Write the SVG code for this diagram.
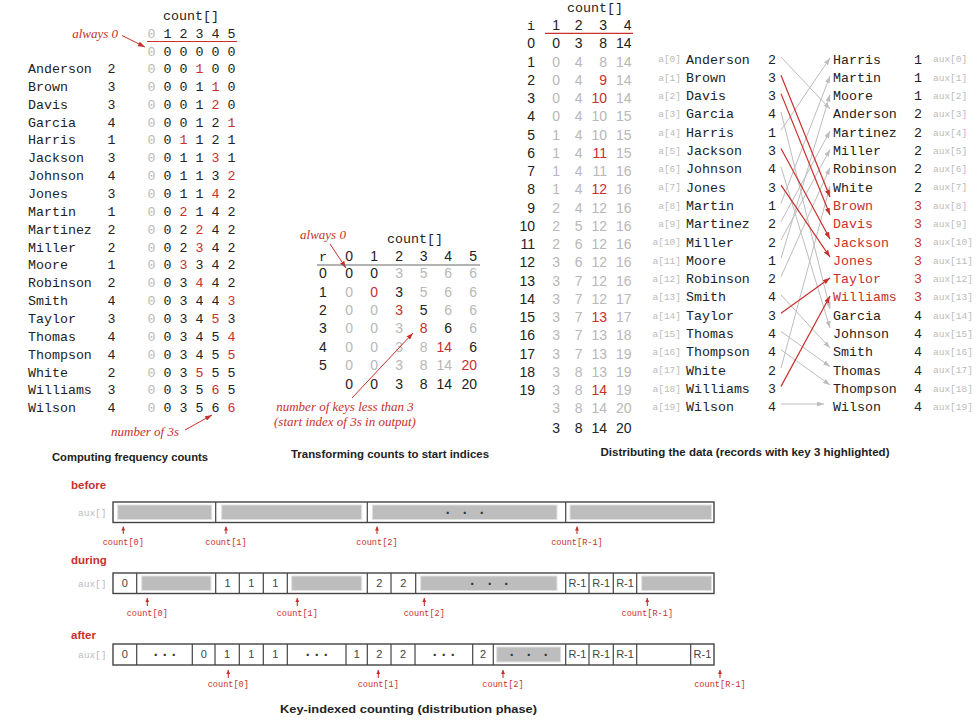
<svg xmlns="http://www.w3.org/2000/svg" width="977" height="722" viewBox="0 0 977 722">
<defs>
<style>
.m{font-family:"Liberation Mono","DejaVu Sans Mono",monospace;font-size:13.3px;fill:#222}
.s{font-family:"Liberation Sans",Arial,sans-serif;font-size:14px;fill:#222}
.g{fill:#b8b8b8}
.r{fill:#c8302c}
.k{fill:#222}
.c{text-anchor:middle}
.e{text-anchor:end}
.it{font-family:"Liberation Serif","Times New Roman",serif;font-style:italic;font-size:13px;fill:#c8302c}
.cap{font-family:"Liberation Sans",Arial,sans-serif;font-weight:bold;font-size:11.3px;fill:#222}
.sm{font-family:"Liberation Mono",monospace;font-size:9.5px;fill:#bbb}
.cnt{font-family:"Liberation Mono",monospace;font-size:8.6px;fill:#c8302c;text-anchor:middle}
.lbl{font-family:"Liberation Sans",Arial,sans-serif;font-weight:bold;font-size:11.5px;fill:#c8302c}
.cell{font-family:"Liberation Sans",Arial,sans-serif;font-size:11px;fill:#444;text-anchor:middle}
.dot{font-family:"Liberation Sans",Arial,sans-serif;font-weight:bold;font-size:14px;fill:#333;text-anchor:middle}
.bar{fill:#fff;stroke:#444;stroke-width:1.4}
.dv{stroke:#444;stroke-width:1.2}
.fl{fill:#bdbdbd;stroke:#e2e2e2;stroke-width:1}
.cg{stroke:#bdbdbd;stroke-width:1;fill:none;marker-end:url(#mg)}
.cr{stroke:#c8302c;stroke-width:1.2;fill:none;marker-end:url(#mr)}
.ra{stroke:#c8302c;stroke-width:1.1;fill:none;marker-end:url(#ma)}
.ia{stroke:#c8302c;stroke-width:1;fill:none;marker-end:url(#mr)}
</style>
<marker id="mg" viewBox="0 0 7 5" refX="7" refY="2.5" markerWidth="7" markerHeight="5" markerUnits="userSpaceOnUse" orient="auto"><path d="M0,0 L7,2.5 L0,5 z" fill="#bdbdbd"/></marker>
<marker id="mr" viewBox="0 0 7 5" refX="7" refY="2.5" markerWidth="7" markerHeight="5" markerUnits="userSpaceOnUse" orient="auto"><path d="M0,0 L7,2.5 L0,5 z" fill="#c8302c"/></marker>
<marker id="ma" viewBox="0 0 6 6" refX="6" refY="3" markerWidth="4" markerHeight="4" markerUnits="userSpaceOnUse" orient="auto"><path d="M0,0 L6,3 L0,6 z" fill="#c8302c"/></marker>
</defs>
<rect width="977" height="722" fill="#fff"/>

<!-- ============ Computing frequency counts ============ -->
<g id="freq-table">
<text class="m c" x="191" y="19.5">count[]</text>
<text class="m c" x="151.5 167.5 183.5 199.5 215.5 231.5" y="37.8"><tspan class="g">0</tspan>12345</text>
<line x1="147" y1="41.5" x2="237" y2="41.5" stroke="#c8302c" stroke-width="1.2"/>
<text class="m c" x="151.5 167.5 183.5 199.5 215.5 231.5" y="55.5"><tspan class="g">0</tspan>00000</text>
<text class="it e" x="118" y="37.5">always 0</text>
<line class="ia" x1="122" y1="35.5" x2="145" y2="47"/>
</g>
<g id="freq-rows">
<g id="f-anderson"><text class="m" x="28" y="73">Anderson</text><text class="m c" x="111.5" y="73">2</text><text class="m c" x="151.5 167.5 183.5 199.5 215.5 231.5" y="73"><tspan class="g">0</tspan>00<tspan class="r">1</tspan>00</text></g>
<g id="f-brown"><text class="m" x="28" y="90.9">Brown</text><text class="m c" x="111.5" y="90.9">3</text><text class="m c" x="151.5 167.5 183.5 199.5 215.5 231.5" y="90.9"><tspan class="g">0</tspan>001<tspan class="r">1</tspan>0</text></g>
<g id="f-davis"><text class="m" x="28" y="108.7">Davis</text><text class="m c" x="111.5" y="108.7">3</text><text class="m c" x="151.5 167.5 183.5 199.5 215.5 231.5" y="108.7"><tspan class="g">0</tspan>001<tspan class="r">2</tspan>0</text></g>
<g id="f-garcia"><text class="m" x="28" y="126.6">Garcia</text><text class="m c" x="111.5" y="126.6">4</text><text class="m c" x="151.5 167.5 183.5 199.5 215.5 231.5" y="126.6"><tspan class="g">0</tspan>0012<tspan class="r">1</tspan></text></g>
<g id="f-harris"><text class="m" x="28" y="144.4">Harris</text><text class="m c" x="111.5" y="144.4">1</text><text class="m c" x="151.5 167.5 183.5 199.5 215.5 231.5" y="144.4"><tspan class="g">0</tspan>0<tspan class="r">1</tspan>121</text></g>
<g id="f-jackson"><text class="m" x="28" y="162.3">Jackson</text><text class="m c" x="111.5" y="162.3">3</text><text class="m c" x="151.5 167.5 183.5 199.5 215.5 231.5" y="162.3"><tspan class="g">0</tspan>011<tspan class="r">3</tspan>1</text></g>
<g id="f-johnson"><text class="m" x="28" y="180.1">Johnson</text><text class="m c" x="111.5" y="180.1">4</text><text class="m c" x="151.5 167.5 183.5 199.5 215.5 231.5" y="180.1"><tspan class="g">0</tspan>0113<tspan class="r">2</tspan></text></g>
<g id="f-jones"><text class="m" x="28" y="198">Jones</text><text class="m c" x="111.5" y="198">3</text><text class="m c" x="151.5 167.5 183.5 199.5 215.5 231.5" y="198"><tspan class="g">0</tspan>011<tspan class="r">4</tspan>2</text></g>
<g id="f-martin"><text class="m" x="28" y="215.8">Martin</text><text class="m c" x="111.5" y="215.8">1</text><text class="m c" x="151.5 167.5 183.5 199.5 215.5 231.5" y="215.8"><tspan class="g">0</tspan>0<tspan class="r">2</tspan>142</text></g>
<g id="f-martinez"><text class="m" x="28" y="233.7">Martinez</text><text class="m c" x="111.5" y="233.7">2</text><text class="m c" x="151.5 167.5 183.5 199.5 215.5 231.5" y="233.7"><tspan class="g">0</tspan>02<tspan class="r">2</tspan>42</text></g>
<g id="f-miller"><text class="m" x="28" y="251.5">Miller</text><text class="m c" x="111.5" y="251.5">2</text><text class="m c" x="151.5 167.5 183.5 199.5 215.5 231.5" y="251.5"><tspan class="g">0</tspan>02<tspan class="r">3</tspan>42</text></g>
<g id="f-moore"><text class="m" x="28" y="269.4">Moore</text><text class="m c" x="111.5" y="269.4">1</text><text class="m c" x="151.5 167.5 183.5 199.5 215.5 231.5" y="269.4"><tspan class="g">0</tspan>0<tspan class="r">3</tspan>342</text></g>
<g id="f-robinson"><text class="m" x="28" y="287.2">Robinson</text><text class="m c" x="111.5" y="287.2">2</text><text class="m c" x="151.5 167.5 183.5 199.5 215.5 231.5" y="287.2"><tspan class="g">0</tspan>03<tspan class="r">4</tspan>42</text></g>
<g id="f-smith"><text class="m" x="28" y="305.1">Smith</text><text class="m c" x="111.5" y="305.1">4</text><text class="m c" x="151.5 167.5 183.5 199.5 215.5 231.5" y="305.1"><tspan class="g">0</tspan>0344<tspan class="r">3</tspan></text></g>
<g id="f-taylor"><text class="m" x="28" y="322.9">Taylor</text><text class="m c" x="111.5" y="322.9">3</text><text class="m c" x="151.5 167.5 183.5 199.5 215.5 231.5" y="322.9"><tspan class="g">0</tspan>034<tspan class="r">5</tspan>3</text></g>
<g id="f-thomas"><text class="m" x="28" y="340.8">Thomas</text><text class="m c" x="111.5" y="340.8">4</text><text class="m c" x="151.5 167.5 183.5 199.5 215.5 231.5" y="340.8"><tspan class="g">0</tspan>0345<tspan class="r">4</tspan></text></g>
<g id="f-thompson"><text class="m" x="28" y="358.6">Thompson</text><text class="m c" x="111.5" y="358.6">4</text><text class="m c" x="151.5 167.5 183.5 199.5 215.5 231.5" y="358.6"><tspan class="g">0</tspan>0345<tspan class="r">5</tspan></text></g>
<g id="f-white"><text class="m" x="28" y="376.5">White</text><text class="m c" x="111.5" y="376.5">2</text><text class="m c" x="151.5 167.5 183.5 199.5 215.5 231.5" y="376.5"><tspan class="g">0</tspan>03<tspan class="r">5</tspan>55</text></g>
<g id="f-williams"><text class="m" x="28" y="394.3">Williams</text><text class="m c" x="111.5" y="394.3">3</text><text class="m c" x="151.5 167.5 183.5 199.5 215.5 231.5" y="394.3"><tspan class="g">0</tspan>035<tspan class="r">6</tspan>5</text></g>
<g id="f-wilson"><text class="m" x="28" y="412.2">Wilson</text><text class="m c" x="111.5" y="412.2">4</text><text class="m c" x="151.5 167.5 183.5 199.5 215.5 231.5" y="412.2"><tspan class="g">0</tspan>0356<tspan class="r">6</tspan></text></g>
</g>
<g id="freq-note">
<text class="it e" x="179" y="436">number of 3s</text>
<line class="ia" x1="185" y1="430" x2="212" y2="415"/>
<text class="cap c" x="130" y="461" textLength="156" lengthAdjust="spacingAndGlyphs">Computing frequency counts</text>
</g>

<!-- ============ Transforming counts to start indices ============ -->
<g id="cum-table">
<text class="it c" x="323" y="239">always 0</text>
<line class="ia" x1="330" y1="244" x2="346" y2="268"/>
<text class="m c" x="415" y="242.5">count[]</text>
<text class="m c" x="323" y="261">r</text>
<text class="s e" y="261"><tspan x="353">0</tspan><tspan x="378">1</tspan><tspan x="403">2</tspan><tspan x="427.5">3</tspan><tspan x="452">4</tspan><tspan x="477">5</tspan></text>
<line x1="317" y1="265" x2="480" y2="265" stroke="#666" stroke-width="1"/>
<g id="cum-r0"><text class="s c" x="323" y="278.3">0</text><text class="s e" y="278.3"><tspan x="353">0</tspan><tspan x="378">0</tspan><tspan class="g" x="403">3</tspan><tspan class="g" x="427.5">5</tspan><tspan class="g" x="452">6</tspan><tspan class="g" x="477">6</tspan></text></g>
<g id="cum-r1"><text class="s c" x="323" y="296.7">1</text><text class="s e" y="296.7"><tspan class="g" x="353">0</tspan><tspan class="r" x="378">0</tspan><tspan x="403">3</tspan><tspan class="g" x="427.5">5</tspan><tspan class="g" x="452">6</tspan><tspan class="g" x="477">6</tspan></text></g>
<g id="cum-r2"><text class="s c" x="323" y="315">2</text><text class="s e" y="315"><tspan class="g" x="353">0</tspan><tspan class="g" x="378">0</tspan><tspan class="r" x="403">3</tspan><tspan x="427.5">5</tspan><tspan class="g" x="452">6</tspan><tspan class="g" x="477">6</tspan></text></g>
<g id="cum-r3"><text class="s c" x="323" y="333.4">3</text><text class="s e" y="333.4"><tspan class="g" x="353">0</tspan><tspan class="g" x="378">0</tspan><tspan class="g" x="403">3</tspan><tspan class="r" x="427.5">8</tspan><tspan x="452">6</tspan><tspan class="g" x="477">6</tspan></text></g>
<g id="cum-r4"><text class="s c" x="323" y="351.8">4</text><text class="s e" y="351.8"><tspan class="g" x="353">0</tspan><tspan class="g" x="378">0</tspan><tspan class="g" x="403">3</tspan><tspan class="g" x="427.5">8</tspan><tspan class="r" x="452">14</tspan><tspan x="477">6</tspan></text></g>
<g id="cum-r5"><text class="s c" x="323" y="370.2">5</text><text class="s e" y="370.2"><tspan class="g" x="353">0</tspan><tspan class="g" x="378">0</tspan><tspan class="g" x="403">3</tspan><tspan class="g" x="427.5">8</tspan><tspan class="g" x="452">14</tspan><tspan class="r" x="477">20</tspan></text></g>
<g id="cum-final"><text class="s e" y="388.6"><tspan x="353">0</tspan><tspan x="378">0</tspan><tspan x="403">3</tspan><tspan x="427.5">8</tspan><tspan x="452">14</tspan><tspan x="477">20</tspan></text></g>
</g>
<g id="cum-note">
<line class="ia" x1="352" y1="398" x2="413" y2="333"/>
<text class="it c" x="345" y="410.5">number of keys less than 3</text>
<text class="it c" x="345" y="425.5">(start index of 3s in output)</text>
<text class="cap c" x="390" y="458" textLength="198" lengthAdjust="spacingAndGlyphs">Transforming counts to start indices</text>
</g>

<!-- ============ Distributing the data: count trace ============ -->
<g id="dist-count">
<text class="m c" x="595" y="11.5">count[]</text>
<text class="m c" x="531" y="30">i</text>
<text class="s e" y="30"><tspan x="560">1</tspan><tspan x="582.5">2</tspan><tspan x="607">3</tspan><tspan x="631.5">4</tspan></text>
<line x1="545" y1="33.3" x2="633" y2="33.3" stroke="#c8302c" stroke-width="1.2"/>
<text class="s e" y="48.3"><tspan x="535">0</tspan><tspan x="560">0</tspan><tspan x="582.5">3</tspan><tspan x="607">8</tspan><tspan x="631.5">14</tspan></text>
<text class="s e" y="66.55"><tspan x="535">1</tspan><tspan class="g" x="560">0</tspan><tspan class="g" x="582.5">4</tspan><tspan class="g" x="607">8</tspan><tspan class="g" x="631.5">14</tspan></text>
<text class="s e" y="84.8"><tspan x="535">2</tspan><tspan class="g" x="560">0</tspan><tspan class="g" x="582.5">4</tspan><tspan class="r" x="607">9</tspan><tspan class="g" x="631.5">14</tspan></text>
<text class="s e" y="103.05"><tspan x="535">3</tspan><tspan class="g" x="560">0</tspan><tspan class="g" x="582.5">4</tspan><tspan class="r" x="607">10</tspan><tspan class="g" x="631.5">14</tspan></text>
<text class="s e" y="121.3"><tspan x="535">4</tspan><tspan class="g" x="560">0</tspan><tspan class="g" x="582.5">4</tspan><tspan class="g" x="607">10</tspan><tspan class="g" x="631.5">15</tspan></text>
<text class="s e" y="139.55"><tspan x="535">5</tspan><tspan class="g" x="560">1</tspan><tspan class="g" x="582.5">4</tspan><tspan class="g" x="607">10</tspan><tspan class="g" x="631.5">15</tspan></text>
<text class="s e" y="157.8"><tspan x="535">6</tspan><tspan class="g" x="560">1</tspan><tspan class="g" x="582.5">4</tspan><tspan class="r" x="607">11</tspan><tspan class="g" x="631.5">15</tspan></text>
<text class="s e" y="176.05"><tspan x="535">7</tspan><tspan class="g" x="560">1</tspan><tspan class="g" x="582.5">4</tspan><tspan class="g" x="607">11</tspan><tspan class="g" x="631.5">16</tspan></text>
<text class="s e" y="194.3"><tspan x="535">8</tspan><tspan class="g" x="560">1</tspan><tspan class="g" x="582.5">4</tspan><tspan class="r" x="607">12</tspan><tspan class="g" x="631.5">16</tspan></text>
<text class="s e" y="212.55"><tspan x="535">9</tspan><tspan class="g" x="560">2</tspan><tspan class="g" x="582.5">4</tspan><tspan class="g" x="607">12</tspan><tspan class="g" x="631.5">16</tspan></text>
<text class="s e" y="230.8"><tspan x="535">10</tspan><tspan class="g" x="560">2</tspan><tspan class="g" x="582.5">5</tspan><tspan class="g" x="607">12</tspan><tspan class="g" x="631.5">16</tspan></text>
<text class="s e" y="249.05"><tspan x="535">11</tspan><tspan class="g" x="560">2</tspan><tspan class="g" x="582.5">6</tspan><tspan class="g" x="607">12</tspan><tspan class="g" x="631.5">16</tspan></text>
<text class="s e" y="267.3"><tspan x="535">12</tspan><tspan class="g" x="560">3</tspan><tspan class="g" x="582.5">6</tspan><tspan class="g" x="607">12</tspan><tspan class="g" x="631.5">16</tspan></text>
<text class="s e" y="285.55"><tspan x="535">13</tspan><tspan class="g" x="560">3</tspan><tspan class="g" x="582.5">7</tspan><tspan class="g" x="607">12</tspan><tspan class="g" x="631.5">16</tspan></text>
<text class="s e" y="303.8"><tspan x="535">14</tspan><tspan class="g" x="560">3</tspan><tspan class="g" x="582.5">7</tspan><tspan class="g" x="607">12</tspan><tspan class="g" x="631.5">17</tspan></text>
<text class="s e" y="322.05"><tspan x="535">15</tspan><tspan class="g" x="560">3</tspan><tspan class="g" x="582.5">7</tspan><tspan class="r" x="607">13</tspan><tspan class="g" x="631.5">17</tspan></text>
<text class="s e" y="340.3"><tspan x="535">16</tspan><tspan class="g" x="560">3</tspan><tspan class="g" x="582.5">7</tspan><tspan class="g" x="607">13</tspan><tspan class="g" x="631.5">18</tspan></text>
<text class="s e" y="358.55"><tspan x="535">17</tspan><tspan class="g" x="560">3</tspan><tspan class="g" x="582.5">7</tspan><tspan class="g" x="607">13</tspan><tspan class="g" x="631.5">19</tspan></text>
<text class="s e" y="376.8"><tspan x="535">18</tspan><tspan class="g" x="560">3</tspan><tspan class="g" x="582.5">8</tspan><tspan class="g" x="607">13</tspan><tspan class="g" x="631.5">19</tspan></text>
<text class="s e" y="395.05"><tspan x="535">19</tspan><tspan class="g" x="560">3</tspan><tspan class="g" x="582.5">8</tspan><tspan class="r" x="607">14</tspan><tspan class="g" x="631.5">19</tspan></text>
<text class="s e" y="413.3"><tspan class="g" x="560">3</tspan><tspan class="g" x="582.5">8</tspan><tspan class="g" x="607">14</tspan><tspan class="g" x="631.5">20</tspan></text>
<text class="s e" y="432.5"><tspan x="560">3</tspan><tspan x="582.5">8</tspan><tspan x="607">14</tspan><tspan x="631.5">20</tspan></text>
</g>

<!-- input array a[] -->
<g id="a-array">
<g id="a0"><text class="sm e" x="681" y="62.3">a[0]</text><text class="m" x="686" y="63.5">Anderson</text><text class="m c" x="772" y="63.5">2</text></g>
<g id="a1"><text class="sm e" x="681" y="80.6">a[1]</text><text class="m" x="686" y="81.8">Brown</text><text class="m c" x="772" y="81.8">3</text></g>
<g id="a2"><text class="sm e" x="681" y="98.9">a[2]</text><text class="m" x="686" y="100.1">Davis</text><text class="m c" x="772" y="100.1">3</text></g>
<g id="a3"><text class="sm e" x="681" y="117.2">a[3]</text><text class="m" x="686" y="118.4">Garcia</text><text class="m c" x="772" y="118.4">4</text></g>
<g id="a4"><text class="sm e" x="681" y="135.5">a[4]</text><text class="m" x="686" y="136.7">Harris</text><text class="m c" x="772" y="136.7">1</text></g>
<g id="a5"><text class="sm e" x="681" y="153.8">a[5]</text><text class="m" x="686" y="155">Jackson</text><text class="m c" x="772" y="155">3</text></g>
<g id="a6"><text class="sm e" x="681" y="172.1">a[6]</text><text class="m" x="686" y="173.3">Johnson</text><text class="m c" x="772" y="173.3">4</text></g>
<g id="a7"><text class="sm e" x="681" y="190.4">a[7]</text><text class="m" x="686" y="191.6">Jones</text><text class="m c" x="772" y="191.6">3</text></g>
<g id="a8"><text class="sm e" x="681" y="208.7">a[8]</text><text class="m" x="686" y="209.9">Martin</text><text class="m c" x="772" y="209.9">1</text></g>
<g id="a9"><text class="sm e" x="681" y="227">a[9]</text><text class="m" x="686" y="228.2">Martinez</text><text class="m c" x="772" y="228.2">2</text></g>
<g id="a10"><text class="sm e" x="681" y="245.3">a[10]</text><text class="m" x="686" y="246.5">Miller</text><text class="m c" x="772" y="246.5">2</text></g>
<g id="a11"><text class="sm e" x="681" y="263.6">a[11]</text><text class="m" x="686" y="264.8">Moore</text><text class="m c" x="772" y="264.8">1</text></g>
<g id="a12"><text class="sm e" x="681" y="281.9">a[12]</text><text class="m" x="686" y="283.1">Robinson</text><text class="m c" x="772" y="283.1">2</text></g>
<g id="a13"><text class="sm e" x="681" y="300.2">a[13]</text><text class="m" x="686" y="301.4">Smith</text><text class="m c" x="772" y="301.4">4</text></g>
<g id="a14"><text class="sm e" x="681" y="318.5">a[14]</text><text class="m" x="686" y="319.7">Taylor</text><text class="m c" x="772" y="319.7">3</text></g>
<g id="a15"><text class="sm e" x="681" y="336.8">a[15]</text><text class="m" x="686" y="338">Thomas</text><text class="m c" x="772" y="338">4</text></g>
<g id="a16"><text class="sm e" x="681" y="355.1">a[16]</text><text class="m" x="686" y="356.3">Thompson</text><text class="m c" x="772" y="356.3">4</text></g>
<g id="a17"><text class="sm e" x="681" y="373.4">a[17]</text><text class="m" x="686" y="374.6">White</text><text class="m c" x="772" y="374.6">2</text></g>
<g id="a18"><text class="sm e" x="681" y="391.7">a[18]</text><text class="m" x="686" y="392.9">Williams</text><text class="m c" x="772" y="392.9">3</text></g>
<g id="a19"><text class="sm e" x="681" y="410">a[19]</text><text class="m" x="686" y="411.2">Wilson</text><text class="m c" x="772" y="411.2">4</text></g>
</g>

<!-- output array aux[] -->
<g id="aux-array">
<g id="x0"><text class="m" x="833" y="63.5">Harris</text><text class="m c" x="918" y="63.5">1</text><text class="sm" x="933" y="62.3">aux[0]</text></g>
<g id="x1"><text class="m" x="833" y="81.8">Martin</text><text class="m c" x="918" y="81.8">1</text><text class="sm" x="933" y="80.6">aux[1]</text></g>
<g id="x2"><text class="m" x="833" y="100.1">Moore</text><text class="m c" x="918" y="100.1">1</text><text class="sm" x="933" y="98.9">aux[2]</text></g>
<g id="x3"><text class="m" x="833" y="118.4">Anderson</text><text class="m c" x="918" y="118.4">2</text><text class="sm" x="933" y="117.2">aux[3]</text></g>
<g id="x4"><text class="m" x="833" y="136.7">Martinez</text><text class="m c" x="918" y="136.7">2</text><text class="sm" x="933" y="135.5">aux[4]</text></g>
<g id="x5"><text class="m" x="833" y="155">Miller</text><text class="m c" x="918" y="155">2</text><text class="sm" x="933" y="153.8">aux[5]</text></g>
<g id="x6"><text class="m" x="833" y="173.3">Robinson</text><text class="m c" x="918" y="173.3">2</text><text class="sm" x="933" y="172.1">aux[6]</text></g>
<g id="x7"><text class="m" x="833" y="191.6">White</text><text class="m c" x="918" y="191.6">2</text><text class="sm" x="933" y="190.4">aux[7]</text></g>
<g id="x8"><text class="m r" x="833" y="209.9">Brown</text><text class="m c r" x="918" y="209.9">3</text><text class="sm" x="933" y="208.7">aux[8]</text></g>
<g id="x9"><text class="m r" x="833" y="228.2">Davis</text><text class="m c r" x="918" y="228.2">3</text><text class="sm" x="933" y="227">aux[9]</text></g>
<g id="x10"><text class="m r" x="833" y="246.5">Jackson</text><text class="m c r" x="918" y="246.5">3</text><text class="sm" x="933" y="245.3">aux[10]</text></g>
<g id="x11"><text class="m r" x="833" y="264.8">Jones</text><text class="m c r" x="918" y="264.8">3</text><text class="sm" x="933" y="263.6">aux[11]</text></g>
<g id="x12"><text class="m r" x="833" y="283.1">Taylor</text><text class="m c r" x="918" y="283.1">3</text><text class="sm" x="933" y="281.9">aux[12]</text></g>
<g id="x13"><text class="m r" x="833" y="301.4">Williams</text><text class="m c r" x="918" y="301.4">3</text><text class="sm" x="933" y="300.2">aux[13]</text></g>
<g id="x14"><text class="m" x="833" y="319.7">Garcia</text><text class="m c" x="918" y="319.7">4</text><text class="sm" x="933" y="318.5">aux[14]</text></g>
<g id="x15"><text class="m" x="833" y="338">Johnson</text><text class="m c" x="918" y="338">4</text><text class="sm" x="933" y="336.8">aux[15]</text></g>
<g id="x16"><text class="m" x="833" y="356.3">Smith</text><text class="m c" x="918" y="356.3">4</text><text class="sm" x="933" y="355.1">aux[16]</text></g>
<g id="x17"><text class="m" x="833" y="374.6">Thomas</text><text class="m c" x="918" y="374.6">4</text><text class="sm" x="933" y="373.4">aux[17]</text></g>
<g id="x18"><text class="m" x="833" y="392.9">Thompson</text><text class="m c" x="918" y="392.9">4</text><text class="sm" x="933" y="391.7">aux[18]</text></g>
<g id="x19"><text class="m" x="833" y="411.2">Wilson</text><text class="m c" x="918" y="411.2">4</text><text class="sm" x="933" y="410">aux[19]</text></g>
</g>

<g id="connectors">
<line class="cg" x1="781" y1="57" x2="830" y2="109"/>
<line class="cg" x1="781" y1="111.9" x2="830" y2="309"/>
<line class="cg" x1="781" y1="130.2" x2="830" y2="58"/>
<line class="cg" x1="781" y1="166.8" x2="830" y2="328"/>
<line class="cg" x1="781" y1="203.4" x2="830" y2="76"/>
<line class="cg" x1="781" y1="221.7" x2="830" y2="131"/>
<line class="cg" x1="781" y1="240" x2="830" y2="149.5"/>
<line class="cg" x1="781" y1="258.3" x2="830" y2="94.6"/>
<line class="cg" x1="781" y1="276.6" x2="830" y2="167.8"/>
<line class="cg" x1="781" y1="294.9" x2="830" y2="348"/>
<line class="cg" x1="781" y1="331.5" x2="830" y2="366.5"/>
<line class="cg" x1="781" y1="349.8" x2="830" y2="385"/>
<line class="cg" x1="781" y1="368.1" x2="830" y2="186"/>
<line class="cg" x1="781" y1="404" x2="824" y2="404"/>
<line class="cr" x1="781" y1="75.3" x2="830" y2="197"/>
<line class="cr" x1="781" y1="93.6" x2="830" y2="215"/>
<line class="cr" x1="781" y1="148.5" x2="830" y2="239"/>
<line class="cr" x1="781" y1="185.1" x2="830" y2="257"/>
<line class="cr" x1="781" y1="313.2" x2="830" y2="278"/>
<line class="cr" x1="781" y1="386.4" x2="830" y2="296"/>
</g>
<text class="cap c" x="745" y="456" textLength="289" lengthAdjust="spacingAndGlyphs">Distributing the data (records with key 3 highlighted)</text>

<!-- ============ Key-indexed counting (distribution phase) ============ -->
<g id="before">
<text class="lbl" x="71" y="489">before</text>
<text class="sm" x="78" y="515.5" font-size="8.5">aux[]</text>
<rect class="bar" x="113" y="502" width="601" height="20.5"/>
<rect class="fl" x="117.7" y="505" width="94" height="14.5"/>
<rect class="fl" x="221.7" y="505" width="140" height="14.5"/>
<rect class="fl" x="372.3" y="505" width="184.7" height="14.5"/>
<rect class="fl" x="570" y="505" width="141.5" height="14.5"/>
<line class="dv" x1="215.7" y1="502" x2="215.7" y2="522.5"/>
<line class="dv" x1="367.3" y1="502" x2="367.3" y2="522.5"/>
<line class="dv" x1="565.7" y1="502" x2="565.7" y2="522.5"/>
<text class="dot" x="448 465 482" y="518">···</text>
<line class="ra" x1="123.3" y1="534" x2="123.3" y2="526.5"/>
<line class="ra" x1="226" y1="534" x2="226" y2="526.5"/>
<line class="ra" x1="377" y1="534" x2="377" y2="526.5"/>
<line class="ra" x1="577" y1="534" x2="577" y2="526.5"/>
<text class="cnt" x="123.3" y="544.5">count[0]</text>
<text class="cnt" x="226" y="544.5">count[1]</text>
<text class="cnt" x="377" y="544.5">count[2]</text>
<text class="cnt" x="577" y="544.5">count[R-1]</text>
</g>
<g id="during">
<text class="lbl" x="71" y="564">during</text>
<text class="sm" x="78" y="586.5" font-size="8.5">aux[]</text>
<rect class="bar" x="113" y="573" width="601" height="20.5"/>
<rect class="fl" x="141.7" y="576" width="69.3" height="14.5"/>
<rect class="fl" x="291.7" y="576" width="70" height="14.5"/>
<rect class="fl" x="420.7" y="576" width="136.3" height="14.5"/>
<rect class="fl" x="641.7" y="576" width="69.8" height="14.5"/>
<g class="dv">
<line x1="136.7" y1="573" x2="136.7" y2="593.5"/>
<line x1="215.7" y1="573" x2="215.7" y2="593.5"/>
<line x1="239.3" y1="573" x2="239.3" y2="593.5"/>
<line x1="263.3" y1="573" x2="263.3" y2="593.5"/>
<line x1="287.3" y1="573" x2="287.3" y2="593.5"/>
<line x1="367.3" y1="573" x2="367.3" y2="593.5"/>
<line x1="391" y1="573" x2="391" y2="593.5"/>
<line x1="415.7" y1="573" x2="415.7" y2="593.5"/>
<line x1="565.7" y1="573" x2="565.7" y2="593.5"/>
<line x1="589" y1="573" x2="589" y2="593.5"/>
<line x1="613.3" y1="573" x2="613.3" y2="593.5"/>
<line x1="636.7" y1="573" x2="636.7" y2="593.5"/>
</g>
<text class="cell" x="124.9" y="587">0</text>
<text class="cell" x="227.5" y="587">1</text>
<text class="cell" x="251.3" y="587">1</text>
<text class="cell" x="275.3" y="587">1</text>
<text class="cell" x="379.2" y="587">2</text>
<text class="cell" x="403.4" y="587">2</text>
<text class="cell" x="577.4" y="587">R-1</text>
<text class="cell" x="601.2" y="587">R-1</text>
<text class="cell" x="625" y="587">R-1</text>
<text class="dot" x="472.7 490 506.7" y="588.5">···</text>
<line class="ra" x1="147.3" y1="606" x2="147.3" y2="598"/>
<line class="ra" x1="297.3" y1="606" x2="297.3" y2="598"/>
<line class="ra" x1="424.3" y1="606" x2="424.3" y2="598"/>
<line class="ra" x1="647.3" y1="606" x2="647.3" y2="598"/>
<text class="cnt" x="147.3" y="615.7">count[0]</text>
<text class="cnt" x="297.3" y="615.7">count[1]</text>
<text class="cnt" x="424.3" y="615.7">count[2]</text>
<text class="cnt" x="647.3" y="615.7">count[R-1]</text>
</g>
<g id="after">
<text class="lbl" x="71" y="638.5">after</text>
<text class="sm" x="78" y="657.5" font-size="8.5">aux[]</text>
<rect class="bar" x="113" y="644" width="601" height="21"/>
<rect class="fl" x="496.7" y="647" width="64" height="15"/>
<g class="dv">
<line x1="136.7" y1="644" x2="136.7" y2="665"/>
<line x1="192.3" y1="644" x2="192.3" y2="665"/>
<line x1="215" y1="644" x2="215" y2="665"/>
<line x1="239.3" y1="644" x2="239.3" y2="665"/>
<line x1="263.3" y1="644" x2="263.3" y2="665"/>
<line x1="287.3" y1="644" x2="287.3" y2="665"/>
<line x1="346" y1="644" x2="346" y2="665"/>
<line x1="367.3" y1="644" x2="367.3" y2="665"/>
<line x1="391" y1="644" x2="391" y2="665"/>
<line x1="415" y1="644" x2="415" y2="665"/>
<line x1="472.7" y1="644" x2="472.7" y2="665"/>
<line x1="493.3" y1="644" x2="493.3" y2="665"/>
<line x1="565.7" y1="644" x2="565.7" y2="665"/>
<line x1="589" y1="644" x2="589" y2="665"/>
<line x1="613.3" y1="644" x2="613.3" y2="665"/>
<line x1="636.7" y1="644" x2="636.7" y2="665"/>
<line x1="690.7" y1="644" x2="690.7" y2="665"/>
</g>
<text class="cell" x="124.9" y="658.3">0</text>
<text class="dot" x="156 165 174" y="659.5">···</text>
<text class="cell" x="203.7" y="658.3">0</text>
<text class="cell" x="227.1" y="658.3">1</text>
<text class="cell" x="251.3" y="658.3">1</text>
<text class="cell" x="275.3" y="658.3">1</text>
<text class="dot" x="308 317 326" y="659.5">···</text>
<text class="cell" x="356.7" y="658.3">1</text>
<text class="cell" x="379.2" y="658.3">2</text>
<text class="cell" x="403" y="658.3">2</text>
<text class="dot" x="435 444 453" y="659.5">···</text>
<text class="cell" x="483" y="658.3">2</text>
<text class="dot" x="512 529 546" y="659.5">···</text>
<text class="cell" x="577.4" y="658.3">R-1</text>
<text class="cell" x="601.2" y="658.3">R-1</text>
<text class="cell" x="625" y="658.3">R-1</text>
<text class="cell" x="702.4" y="658.3">R-1</text>
<line class="ra" x1="228.3" y1="678" x2="228.3" y2="670"/>
<line class="ra" x1="378.3" y1="678" x2="378.3" y2="670"/>
<line class="ra" x1="503" y1="678" x2="503" y2="670"/>
<line class="ra" x1="720" y1="678" x2="720" y2="670"/>
<text class="cnt" x="228.3" y="687.3">count[0]</text>
<text class="cnt" x="378.3" y="687.3">count[1]</text>
<text class="cnt" x="503" y="687.3">count[2]</text>
<text class="cnt" x="720" y="687.3">count[R-1]</text>
</g>
<text class="cap c" x="408.5" y="713" font-size="13.5" textLength="257" lengthAdjust="spacingAndGlyphs">Key-indexed counting (distribution phase)</text>
</svg>
